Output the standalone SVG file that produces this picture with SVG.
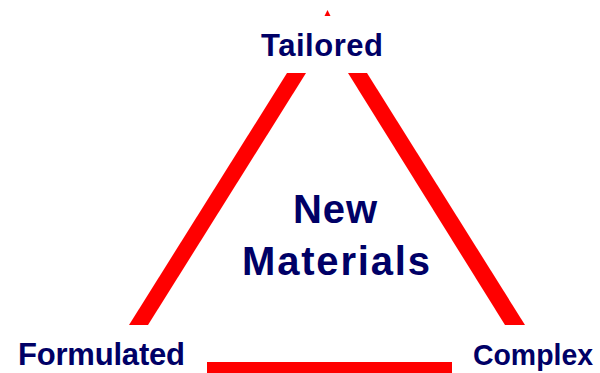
<svg xmlns="http://www.w3.org/2000/svg" width="600" height="373" viewBox="0 0 600 373">
<style>
.lbl{font-family:"Liberation Sans",Arial,sans-serif;font-weight:bold;fill:#000066;text-anchor:middle}
.edge{fill:#ff0000;stroke:none}
</style>
<rect width="600" height="373" fill="#ffffff"/>
<g id="connectors">
<polygon class="edge" points="287,73 306,73 148,325 129,325"/>
<polygon class="edge" points="348,73 367,73 525,325 505,325"/>
<rect class="edge" x="207" y="362" width="245" height="11"/>
<polygon class="edge" points="327.5,10 330.5,16 324.5,16"/>
</g>
<g id="tailored"><text class="lbl" x="322" y="56" font-size="31" textLength="122" lengthAdjust="spacing">Tailored</text></g>
<g id="formulated"><text class="lbl" x="101.5" y="365" font-size="31" textLength="167" lengthAdjust="spacing">Formulated</text></g>
<g id="complex"><text class="lbl" x="533" y="365" font-size="30" textLength="120" lengthAdjust="spacingAndGlyphs">Complex</text></g>
<g id="new-materials">
<text class="lbl" x="335" y="223" font-size="40" textLength="84" lengthAdjust="spacing">New</text>
<text class="lbl" x="336" y="275" font-size="40" textLength="188" lengthAdjust="spacing">Materials</text>
</g>
</svg>
